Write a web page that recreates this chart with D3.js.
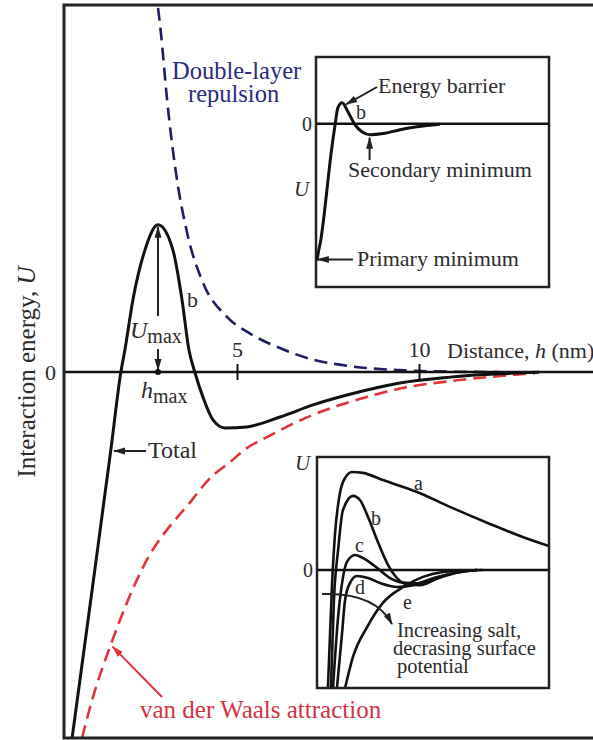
<!DOCTYPE html>
<html>
<head>
<meta charset="utf-8">
<script src="https://cdn.jsdelivr.net/npm/d3@7"></script>
<style>
  body { margin: 0; background: #fff; }
  text { font-family: "Liberation Serif", "Times New Roman", serif; fill: #2b2b2b; }
</style>
</head>
<body>
<div id="chart"></div>
<script>
// ---- data: [h (nm), U (arbitrary units)] ----
var totalCurve = [[0.47,-10],[1.0,-6.1],[1.54,-2.08],[1.81,0],[1.92,0.6],[2.14,1.97],[2.47,3.33],
  [2.83,4.02],[3.24,3.33],[3.49,1.97],[3.68,0.6],[3.84,0],[4.07,-0.7],[4.34,-1.31],[4.67,-1.53],
  [5.27,-1.5],[6.18,-1.23],[7.09,-0.9],[8.02,-0.63],[8.93,-0.41],[9.48,-0.3],[10.85,-0.14],
  [12.23,-0.05],[13.3,-0.01]];
var repulsion = [[2.83,9.95],[2.91,9.26],[3.08,7.43],[3.3,5.6],[3.63,3.8],[4.07,2.43],[4.73,1.5],
  [5.36,1.05],[6.26,0.62],[7.01,0.36],[8.1,0.16],[9.48,0.05],[10.85,0.01],[12.2,0]];
var attraction = [[0.74,-10],[1.02,-8.96],[1.51,-7.51],[2.42,-5.33],[3.76,-3.5],[4.26,-2.9],
  [4.81,-2.46],[5.27,-2.08],[5.82,-1.78],[6.46,-1.45],[7.09,-1.17],[7.83,-0.9],[8.57,-0.68],
  [9.48,-0.45],[10.85,-0.25],[12.23,-0.11],[13.19,-0.03]];
var xTicks = [5, 10];
var peak = [2.83, 4.02];   // h_max, U_max

// top inset: single total curve
var insetCurve = [[0.04,-5.96],[0.09,-5.65],[0.21,-5.04],[0.34,-4.04],[0.47,-2.87],[0.64,-1.35],
  [0.82,-0.04],[0.94,0.7],[1.12,0.91],[1.37,0.52],[1.67,-0.04],[1.97,-0.35],[2.32,-0.48],
  [2.88,-0.43],[3.61,-0.26],[4.33,-0.13],[5.32,-0.02]];

// bottom inset: curves a..e
var curveA = [[0.47,-5.13],[0.65,-0.57],[0.78,1.61],[0.99,3.35],[1.21,4.0],[1.51,4.26],[1.98,4.22],
  [2.84,3.91],[3.71,3.61],[4.31,3.39],[5.73,2.74],[7.46,2.0],[8.75,1.48],[10,1.04]];
var curveB = [[0.6,-5.13],[0.73,-1.3],[0.91,0.87],[1.12,2.61],[1.55,3.22],[1.85,3.04],[2.2,2.3],
  [2.59,1.3],[3.02,0.3],[3.45,-0.35],[3.88,-0.62],[4.44,-0.66],[5.17,-0.38],[6.16,-0.09],[6.9,0]];
var curveC = [[0.69,-5.13],[0.91,-2.04],[1.08,-0.57],[1.29,0.35],[1.64,0.65],[1.98,0.52],[2.59,0.09],
  [3.15,-0.35],[3.71,-0.55],[4.31,-0.58],[5.17,-0.32],[6.16,-0.09],[6.9,0]];
var curveD = [[0.86,-5.13],[1.08,-2.74],[1.21,-1.3],[1.42,-0.57],[1.72,-0.26],[2.2,-0.35],[2.72,-0.57],
  [3.45,-0.74],[4.14,-0.66],[5.0,-0.36],[6.16,-0.09],[6.9,0]];
var curveE = [[1.21,-5.13],[1.55,-3.78],[2.16,-2.48],[2.84,-1.43],[3.71,-0.74],[4.57,-0.3],
  [5.43,-0.09],[6.59,-0.01],[7.16,0]];
var saltLabels = ["a", "b", "c", "d", "e"];
var saltCurves = [curveA, curveB, curveC, curveD, curveE];

var W = 593, H = 740;
var frame = {left: 64, top: 5, bottom: 738};

var svg = d3.select("#chart").append("svg")
  .attr("width", W).attr("height", H);

var navy = "#1e1e62", navyText = "#2a2a80", red = "#e0343a", redText = "#d2343c";

// arrow markers
var defs = svg.append("defs");
function marker(id, color) {
  defs.append("marker")
    .attr("id", id).attr("viewBox", "0 0 12 8")
    .attr("refX", 11).attr("refY", 4)
    .attr("markerWidth", 12).attr("markerHeight", 8)
    .attr("markerUnits", "userSpaceOnUse")
    .attr("orient", "auto")
    .append("path").attr("d", "M0,0.5 L12,4 L0,7.5 Z").attr("fill", color);
}
marker("arrK", "#222");
marker("arrR", red);

function arrow(g, x1, y1, x2, y2, color, id) {
  g.append("line").attr("x1", x1).attr("y1", y1).attr("x2", x2).attr("y2", y2)
    .attr("stroke", color).attr("stroke-width", 2)
    .attr("marker-end", "url(#" + id + ")");
}

// ---- main chart ----
var x = d3.scaleLinear().domain([0, 15]).range([55, 601]);
var y = d3.scaleLinear().domain([-10, 10]).range([frame.bottom, 6]);
var line = d3.line().x(d => x(d[0])).y(d => y(d[1])).curve(d3.curveMonotoneX);

svg.append("clipPath").attr("id", "mainClip").append("rect")
  .attr("x", frame.left).attr("y", frame.top).attr("width", W).attr("height", frame.bottom - frame.top);

var plot = svg.append("g").attr("clip-path", "url(#mainClip)");

plot.append("path").datum(repulsion).attr("d", line)
  .attr("fill", "none").attr("stroke", navy).attr("stroke-width", 2.6)
  .attr("stroke-dasharray", "13,7");
plot.append("path").datum(attraction).attr("d", line)
  .attr("fill", "none").attr("stroke", red).attr("stroke-width", 2.6)
  .attr("stroke-dasharray", "13,7");

// zero axis
svg.append("line").attr("x1", frame.left).attr("x2", W).attr("y1", y(0)).attr("y2", y(0))
  .attr("stroke", "#111").attr("stroke-width", 2.5);

var xAxis = svg.append("g").attr("transform", "translate(0," + y(0) + ")")
  .call(d3.axisTop(x).tickValues(xTicks).tickSize(8).tickPadding(7).tickFormat(d3.format("d")));
xAxis.select(".domain").remove();
xAxis.selectAll(".tick line").attr("y1", 8).attr("y2", -8).attr("stroke", "#111").attr("stroke-width", 2);
xAxis.selectAll(".tick text").attr("font-size", 22).attr("font-family", "Liberation Serif").attr("fill", "#2b2b2b");

var yAxis = svg.append("g").attr("transform", "translate(" + frame.left + ",0)")
  .call(d3.axisLeft(y).tickValues([0]).tickSize(0).tickPadding(8));
yAxis.select(".domain").remove();
yAxis.selectAll(".tick text").attr("font-size", 22).attr("font-family", "Liberation Serif").attr("fill", "#2b2b2b");

plot.append("path").datum(totalCurve).attr("d", line)
  .attr("fill", "none").attr("stroke", "#111").attr("stroke-width", 3);

// frame
svg.append("path")
  .attr("d", "M" + W + "," + frame.top + " H" + frame.left + " V" + frame.bottom + " H" + W)
  .attr("fill", "none").attr("stroke", "#222").attr("stroke-width", 3);

// y label
svg.append("text")
  .attr("transform", "translate(35," + y(0) + ") rotate(-90)")
  .attr("text-anchor", "middle").attr("font-size", 25)
  .text("Interaction energy, ")
  .append("tspan").attr("font-style", "italic").text("U");

// x label
var xl = svg.append("text").attr("x", 447).attr("y", 358).attr("font-size", 22);
xl.append("tspan").text("Distance, ");
xl.append("tspan").attr("font-style", "italic").text("h");
xl.append("tspan").text(" (nm)");

// double-layer label
svg.append("text").attr("x", 172).attr("y", 79).attr("font-size", 24.5).style("fill", navyText).text("Double-layer");
svg.append("text").attr("x", 188).attr("y", 102).attr("font-size", 24.5).style("fill", navyText).text("repulsion");

// van der Waals label + arrow
svg.append("text").attr("x", 140).attr("y", 718).attr("font-size", 25).style("fill", redText)
  .text("van der Waals attraction");
arrow(svg, 162, 697, x(1.5) + 3, y(-7.45) + 2, red, "arrR");

// U_max / h_max annotation
var px = x(peak[0]), py = y(peak[1]);
arrow(svg, px, 316, px, py + 2, "#222", "arrK");
arrow(svg, px, 349, px, y(0) - 2, "#222", "arrK");
svg.append("circle").attr("cx", px).attr("cy", y(0)).attr("r", 3).attr("fill", "#111");

var um = svg.append("text").attr("x", 130).attr("y", 338).attr("font-size", 24);
um.append("tspan").attr("font-style", "italic").text("U");
um.append("tspan").attr("font-size", 20).attr("dy", 5).text("max");
var hm = svg.append("text").attr("x", 141).attr("y", 398).attr("font-size", 24);
hm.append("tspan").attr("font-style", "italic").text("h");
hm.append("tspan").attr("font-size", 20).attr("dy", 5).text("max");

svg.append("text").attr("x", 187).attr("y", 307).attr("font-size", 22).text("b");

// Total label
svg.append("text").attr("x", 148).attr("y", 458).attr("font-size", 24).text("Total");
arrow(svg, 146, 451, x(1.54) + 3, 451, "#222", "arrK");

// ---- top inset ----
var b1 = {x: 316, y: 57, w: 233, h: 230};
var ix = d3.scaleLinear().domain([0, 10]).range([b1.x, b1.x + b1.w]);
var iy = d3.scaleLinear().domain([-7.1, 2.9]).range([b1.y + b1.h, b1.y]);
var iline = d3.line().x(d => ix(d[0])).y(d => iy(d[1])).curve(d3.curveMonotoneX);

var g1 = svg.append("g");
g1.append("rect").attr("x", b1.x).attr("y", b1.y).attr("width", b1.w).attr("height", b1.h)
  .attr("fill", "#fff").attr("stroke", "#222").attr("stroke-width", 2.5);
g1.append("line").attr("x1", b1.x).attr("x2", b1.x + b1.w).attr("y1", iy(0)).attr("y2", iy(0))
  .attr("stroke", "#111").attr("stroke-width", 2.5);
g1.append("path").datum(insetCurve).attr("d", iline)
  .attr("fill", "none").attr("stroke", "#111").attr("stroke-width", 3);

g1.append("text").attr("x", b1.x - 4).attr("y", iy(0) + 7).attr("text-anchor", "end").attr("font-size", 20).text("0");
g1.append("text").attr("x", 294).attr("y", 196).attr("font-size", 21).attr("font-style", "italic").text("U");
g1.append("text").attr("x", 378).attr("y", 93).attr("font-size", 22).text("Energy barrier");
g1.append("text").attr("x", 356).attr("y", 119).attr("font-size", 20).text("b");
g1.append("text").attr("x", 348).attr("y", 177).attr("font-size", 22).text("Secondary minimum");
g1.append("text").attr("x", 357).attr("y", 266).attr("font-size", 22).text("Primary minimum");
arrow(g1, 377, 87, ix(1.25) + 1, iy(0.8) - 1, "#222", "arrK");
arrow(g1, ix(2.3), 160, ix(2.3), iy(-0.48) + 3, "#222", "arrK");
arrow(g1, 353, iy(-5.9), ix(0.08), iy(-5.9), "#222", "arrK");

// ---- bottom inset ----
var b2 = {x: 317, y: 457, w: 232, h: 231};
var jx = d3.scaleLinear().domain([0, 10]).range([b2.x, b2.x + b2.w]);
var jy = d3.scaleLinear().domain([-5.13, 4.91]).range([b2.y + b2.h, b2.y]);
var jline = d3.line().x(d => jx(d[0])).y(d => jy(d[1])).curve(d3.curveMonotoneX);

var g2 = svg.append("g");
g2.append("clipPath").attr("id", "clip2").append("rect")
  .attr("x", b2.x).attr("y", b2.y).attr("width", b2.w).attr("height", b2.h);
g2.append("rect").attr("x", b2.x).attr("y", b2.y).attr("width", b2.w).attr("height", b2.h)
  .attr("fill", "#fff");
g2.append("line").attr("x1", b2.x).attr("x2", b2.x + b2.w).attr("y1", jy(0)).attr("y2", jy(0))
  .attr("stroke", "#111").attr("stroke-width", 2.5);
g2.append("g").attr("clip-path", "url(#clip2)")
  .selectAll("path").data(saltCurves).join("path")
  .attr("d", jline).attr("fill", "none").attr("stroke", "#111").attr("stroke-width", 2.6);
g2.append("rect").attr("x", b2.x).attr("y", b2.y).attr("width", b2.w).attr("height", b2.h)
  .attr("fill", "none").attr("stroke", "#222").attr("stroke-width", 2.5);

var labelPos = [[414, 490], [371, 525], [355, 552], [355, 594], [403, 609]];
g2.selectAll(".lab").data(saltLabels).join("text").attr("class", "lab")
  .attr("x", (d, i) => labelPos[i][0]).attr("y", (d, i) => labelPos[i][1])
  .attr("font-size", 20).text(d => d);

g2.append("text").attr("x", b2.x - 4).attr("y", jy(0) + 7).attr("text-anchor", "end").attr("font-size", 20).text("0");
g2.append("text").attr("x", 295).attr("y", 470).attr("font-size", 21).attr("font-style", "italic").text("U");

g2.append("path").attr("d", "M322,594 Q375,592 392,624")
  .attr("fill", "none").attr("stroke", "#222").attr("stroke-width", 2)
  .attr("marker-end", "url(#arrK)");
var salt = ["Increasing salt,", "decrasing surface", "potential"];
var saltX = [397, 393, 397];
g2.selectAll(".salt").data(salt).join("text").attr("class", "salt")
  .attr("x", (d, i) => saltX[i]).attr("y", (d, i) => 637 + i * 18)
  .attr("font-size", 20.5).text(d => d);
</script>
</body>
</html>
